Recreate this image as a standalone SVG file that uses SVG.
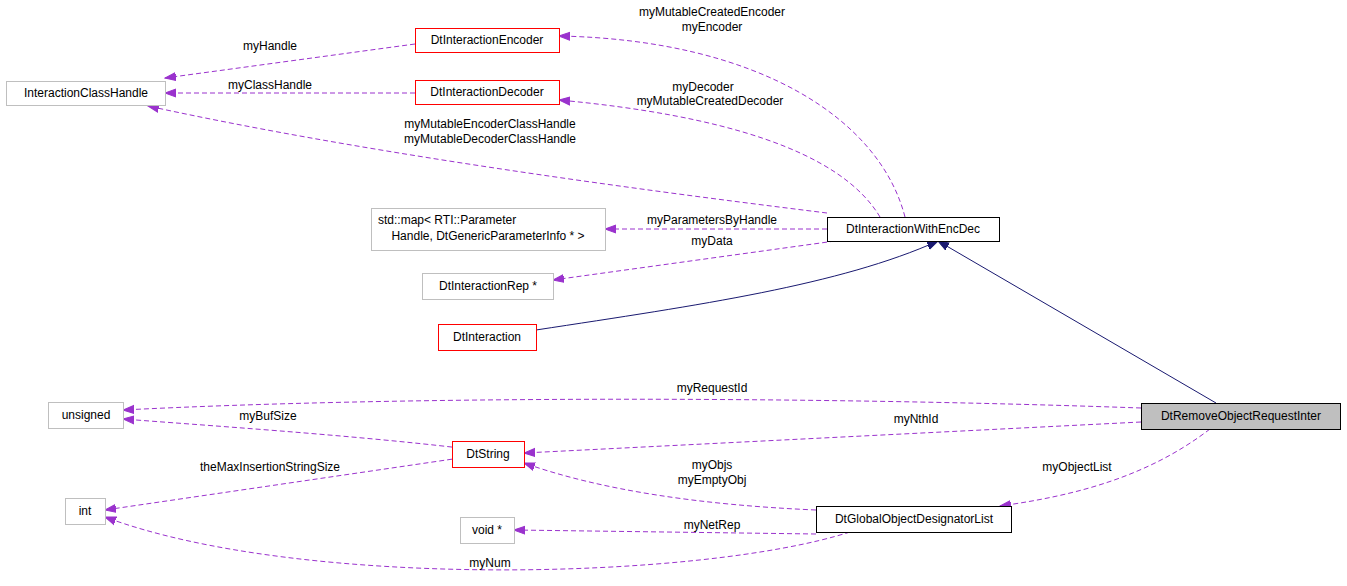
<svg xmlns="http://www.w3.org/2000/svg" width="1347" height="586" viewBox="0 0 1347 586">
<style>
text{font-family:"Liberation Sans",Arial,sans-serif;font-size:12px;fill:#000}
.n rect{fill:#fff;stroke-width:1}
.g rect{stroke:#bfbfbf}.r rect{stroke:#f00}.b rect{stroke:#000}
.e{fill:none;stroke:#9a32cd;stroke-dasharray:5,3}
.s{fill:none;stroke:#191970}
</style>
<defs>
<marker id="p" markerWidth="12" markerHeight="10" refX="11" refY="5" orient="auto" markerUnits="userSpaceOnUse"><path d="M0,1 L11,5 L0,9 Z" fill="#9a32cd" stroke="#9a32cd"/></marker>
<marker id="n" markerWidth="12" markerHeight="10" refX="11" refY="5" orient="auto" markerUnits="userSpaceOnUse"><path d="M0,1 L11,5 L0,9 Z" fill="#191970" stroke="#191970"/></marker>
</defs>
<rect width="1347" height="586" fill="#fff"/>
<g id="edges">
<path class="e" marker-end="url(#p)" d="M415,44 L165,78"/>
<path class="e" marker-end="url(#p)" d="M415,93 L165,93"/>
<path class="e" marker-end="url(#p)" d="M905,217 C880,120 760,40 559,36"/>
<path class="e" marker-end="url(#p)" d="M880,217 C840,150 720,115 559,100"/>
<path class="e" marker-end="url(#p)" d="M827,213 C600,185 350,150 148,106"/>
<path class="e" marker-end="url(#p)" d="M827,229 L605,229"/>
<path class="e" marker-end="url(#p)" d="M835,241 L553,280"/>
<path class="s" marker-end="url(#n)" d="M536,330 C700,305 840,285 938,241"/>
<path class="s" marker-end="url(#n)" d="M1216,403 L938,241"/>
<path class="e" marker-end="url(#p)" d="M1141,408 C800,396 400,396 123,410"/>
<path class="e" marker-end="url(#p)" d="M1141,422 L524,453"/>
<path class="e" marker-end="url(#p)" d="M1210,429 C1150,475 1080,495 1000,506"/>
<path class="e" marker-end="url(#p)" d="M460,448 C350,435 200,425 123,419"/>
<path class="e" marker-end="url(#p)" d="M460,458 L105,510"/>
<path class="e" marker-end="url(#p)" d="M816,510 C700,505 600,490 524,463"/>
<path class="e" marker-end="url(#p)" d="M816,534 L514,530"/>
<path class="e" marker-end="url(#p)" d="M850,532 C700,580 300,590 105,517"/>
<text x="270" y="50" text-anchor="middle">myHandle</text>
<text x="270" y="89" text-anchor="middle">myClassHandle</text>
<text x="712" y="16" text-anchor="middle">myMutableCreatedEncoder</text>
<text x="712" y="31" text-anchor="middle">myEncoder</text>
<text x="703" y="91" text-anchor="middle">myDecoder</text>
<text x="710" y="105" text-anchor="middle">myMutableCreatedDecoder</text>
<text x="490" y="128" text-anchor="middle">myMutableEncoderClassHandle</text>
<text x="490" y="143" text-anchor="middle">myMutableDecoderClassHandle</text>
<text x="712" y="224" text-anchor="middle">myParametersByHandle</text>
<text x="712" y="245" text-anchor="middle">myData</text>
<text x="712" y="392" text-anchor="middle">myRequestId</text>
<text x="916" y="423" text-anchor="middle">myNthId</text>
<text x="1077" y="471" text-anchor="middle">myObjectList</text>
<text x="268" y="420" text-anchor="middle">myBufSize</text>
<text x="270" y="471" text-anchor="middle">theMaxInsertionStringSize</text>
<text x="712" y="469" text-anchor="middle">myObjs</text>
<text x="712" y="484" text-anchor="middle">myEmptyObj</text>
<text x="712" y="529" text-anchor="middle">myNetRep</text>
<text x="490" y="567" text-anchor="middle">myNum</text>
</g>
<g id="InteractionClassHandle" class="n g"><rect x="6.5" y="81.5" width="159" height="24"/><text x="86" y="97" text-anchor="middle">InteractionClassHandle</text></g>
<g id="DtInteractionEncoder" class="n r"><rect x="415.5" y="28.5" width="144" height="24"/><text x="487" y="44" text-anchor="middle">DtInteractionEncoder</text></g>
<g id="DtInteractionDecoder" class="n r"><rect x="415.5" y="80.5" width="144" height="24"/><text x="487" y="96" text-anchor="middle">DtInteractionDecoder</text></g>
<g id="stdmap" class="n g"><rect x="371.5" y="208.5" width="234" height="42"/><text x="378" y="224">std::map&lt; RTI::Parameter</text><text x="488" y="240" text-anchor="middle">Handle, DtGenericParameterInfo * &gt;</text></g>
<g id="DtInteractionWithEncDec" class="n b"><rect x="827.5" y="217.5" width="172" height="24"/><text x="913" y="233" text-anchor="middle">DtInteractionWithEncDec</text></g>
<g id="DtInteractionRep" class="n g"><rect x="422.5" y="273.5" width="131" height="26"/><text x="488" y="290" text-anchor="middle">DtInteractionRep *</text></g>
<g id="DtInteraction" class="n r"><rect x="438.5" y="324.5" width="98" height="26"/><text x="487" y="341" text-anchor="middle">DtInteraction</text></g>
<g id="unsigned" class="n g"><rect x="48.5" y="402.5" width="75" height="26"/><text x="86" y="419" text-anchor="middle">unsigned</text></g>
<g id="DtRemoveObjectRequestInter"><rect x="1141.5" y="403.5" width="199" height="26" fill="#bfbfbf" stroke="#000"/><text x="1241" y="420" text-anchor="middle">DtRemoveObjectRequestInter</text></g>
<g id="DtString" class="n r"><rect x="452.5" y="441.5" width="72" height="26"/><text x="488" y="458" text-anchor="middle">DtString</text></g>
<g id="int" class="n g"><rect x="65.5" y="498.5" width="40" height="26"/><text x="85" y="515" text-anchor="middle">int</text></g>
<g id="void" class="n g"><rect x="460.5" y="517.5" width="54" height="26"/><text x="487" y="534" text-anchor="middle">void *</text></g>
<g id="DtGlobalObjectDesignatorList" class="n b"><rect x="816.5" y="506.5" width="195" height="26"/><text x="914" y="523" text-anchor="middle">DtGlobalObjectDesignatorList</text></g>
</svg>
